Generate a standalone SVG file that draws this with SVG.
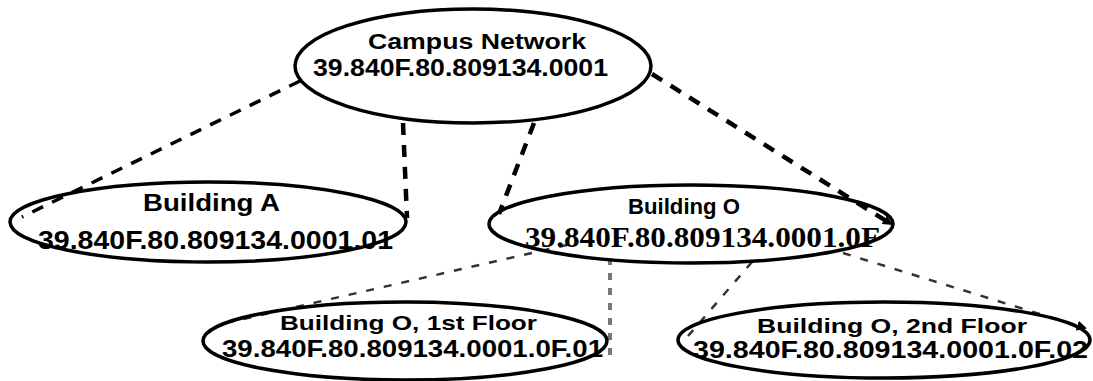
<svg xmlns="http://www.w3.org/2000/svg" width="1093" height="381" viewBox="0 0 1093 381">
<style>
.node ellipse{fill:none;stroke:#000;stroke-width:3.5}
.t{font-family:"Liberation Sans",Arial,sans-serif;font-weight:bold;fill:#000}
.ts{font-family:"Liberation Serif","Times New Roman",serif;font-weight:bold;fill:#000}
.c1{fill:none;stroke:#000;stroke-width:4.5;stroke-dasharray:12 10}
.c2{fill:none;stroke:#333;stroke-width:2.5;stroke-dasharray:8 10}
.c3{fill:none;stroke:#777;stroke-width:4;stroke-dasharray:7 8}
</style>
<defs>
<marker id="ah" markerWidth="10" markerHeight="10" refX="8" refY="5" orient="auto" markerUnits="userSpaceOnUse">
<path d="M0,0 L10,5 L0,10 z" fill="#000"/>
</marker>
</defs>
<rect width="1093" height="381" fill="#fff"/>
<g id="connectors">
<line class="c1" x1="300" y1="81" x2="22" y2="217" style="stroke-width:3.5"/>
<line class="c1" x1="403" y1="123" x2="407" y2="218"/>
<line class="c1" x1="534" y1="123" x2="499" y2="214"/>
<line class="c1" x1="652" y1="74" x2="891" y2="224" marker-end="url(#ah)"/>
<line class="c2" x1="567" y1="245" x2="230" y2="322"/>
<line class="c3" x1="610" y1="258" x2="610" y2="357"/>
<line class="c2" x1="752" y1="262" x2="688" y2="336"/>
<line class="c2" x1="843" y1="253" x2="1085" y2="328" marker-end="url(#ah)"/>
</g>
<g id="campus" class="node">
<ellipse cx="473" cy="66" rx="178" ry="57"/>
<text class="t" x="368" y="49" font-size="22" textLength="218" lengthAdjust="spacingAndGlyphs">Campus Network</text>
<text class="t" x="313" y="76" font-size="24" textLength="295" lengthAdjust="spacingAndGlyphs">39.840F.80.809134.0001</text>
</g>
<g id="buildingA" class="node">
<ellipse cx="208" cy="222" rx="198" ry="40"/>
<text class="t" x="143" y="211" font-size="24" textLength="137" lengthAdjust="spacingAndGlyphs">Building A</text>
<text class="t" x="38" y="249" font-size="26" textLength="355" lengthAdjust="spacingAndGlyphs">39.840F.80.809134.0001.01</text>
</g>
<g id="buildingO" class="node">
<ellipse cx="691" cy="224" rx="202" ry="39"/>
<text class="t" x="628" y="214" font-size="22" textLength="112" lengthAdjust="spacingAndGlyphs">Building O</text>
<text class="ts" x="525" y="247" font-size="29" textLength="355" lengthAdjust="spacingAndGlyphs">39.840F.80.809134.0001.0F</text>
</g>
<g id="floor1" class="node">
<ellipse cx="405" cy="341" rx="202" ry="39"/>
<text class="t" x="280" y="330" font-size="21" textLength="257" lengthAdjust="spacingAndGlyphs">Building O, 1st Floor</text>
<text class="t" x="222" y="357" font-size="23" textLength="381" lengthAdjust="spacingAndGlyphs">39.840F.80.809134.0001.0F.01</text>
</g>
<g id="floor2" class="node">
<ellipse cx="884" cy="340" rx="206" ry="38"/>
<text class="t" x="757" y="333" font-size="21" textLength="270" lengthAdjust="spacingAndGlyphs">Building O, 2nd Floor</text>
<text class="t" x="693" y="358" font-size="23" textLength="395" lengthAdjust="spacingAndGlyphs">39.840F.80.809134.0001.0F.02</text>
</g>
</svg>
